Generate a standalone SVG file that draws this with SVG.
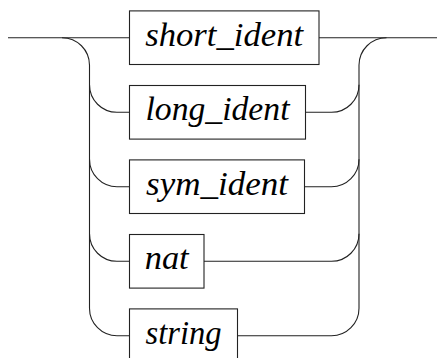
<svg xmlns="http://www.w3.org/2000/svg" width="438" height="358" viewBox="0 0 438 358">
<style>
.box{fill:#fff;stroke:#222;stroke-width:1.1}
.lbl{font-family:'Liberation Serif','DejaVu Serif',serif;font-style:italic;font-size:34px;fill:#000;text-anchor:middle}
.wire{fill:none;stroke:#222;stroke-width:1.1}
</style>
<rect width="438" height="358" fill="#fff"/>
<g id="connectors">
<path class="wire" d="M8,37.7 H129.5"/>
<path class="wire" d="M62,37.7 A27.5,27.5 0 0 1 89.5,65.2 V308.2 A27.5,27.5 0 0 0 117,335.7 H129.5"/>
<path class="wire" d="M89.5,84.8 A27.5,27.5 0 0 0 117,112.3 H129.5"/>
<path class="wire" d="M89.5,159.2 A27.5,27.5 0 0 0 117,186.7 H129.5"/>
<path class="wire" d="M89.5,233.8 A27.5,27.5 0 0 0 117,261.3 H129.5"/>
<path class="wire" d="M319,37.7 H437"/>
<path class="wire" d="M386.5,37.7 A27.5,27.5 0 0 0 359,65.2 V308.2 A27.5,27.5 0 0 1 331.5,335.7 H237.5"/>
<path class="wire" d="M305.5,112.3 H331.5 A27.5,27.5 0 0 0 359,84.8"/>
<path class="wire" d="M304.5,186.7 H331.5 A27.5,27.5 0 0 0 359,159.2"/>
<path class="wire" d="M204,261.3 H331.5 A27.5,27.5 0 0 0 359,233.8"/>
</g>
<g id="short_ident">
<rect class="box" x="129.5" y="10.9" width="189.5" height="53.6"/>
<text class="lbl" x="224.2" y="45.7" textLength="158" lengthAdjust="spacingAndGlyphs">short_ident</text>
</g>
<g id="long_ident">
<rect class="box" x="129.5" y="85.5" width="176" height="53.6"/>
<text class="lbl" x="217.5" y="120.3" textLength="144" lengthAdjust="spacingAndGlyphs">long_ident</text>
</g>
<g id="sym_ident">
<rect class="box" x="129.5" y="159.9" width="175" height="53.6"/>
<text class="lbl" x="217" y="194.7" textLength="142" lengthAdjust="spacingAndGlyphs">sym_ident</text>
</g>
<g id="nat">
<rect class="box" x="129.5" y="234.5" width="74.5" height="53.6"/>
<text class="lbl" x="166.7" y="269.3" textLength="44" lengthAdjust="spacingAndGlyphs">nat</text>
</g>
<g id="string">
<rect class="box" x="129.5" y="308.9" width="108" height="53.6"/>
<text class="lbl" x="183.5" y="343.7" textLength="76" lengthAdjust="spacingAndGlyphs">string</text>
</g>
</svg>
